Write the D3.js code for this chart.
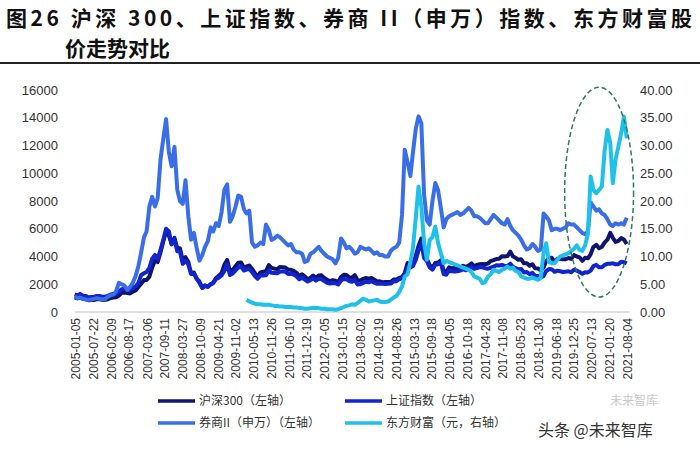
<!DOCTYPE html>
<html>
<head>
<meta charset="utf-8">
<script src="https://cdn.jsdelivr.net/npm/d3@7"></script>
<style>
  body { margin: 0; background: #fff; }
  svg { display: block; }
  text { font-family: "Liberation Sans", Arial, sans-serif; }
  .cjk { font-family: "Noto Sans CJK SC", sans-serif; }
</style>
</head>
<body>
<svg width="700" height="450"></svg>
<script>
// monthly points, Jan 2005 .. Aug 2021 (200 months)
const startYear = 2005;
const monthCount = 200;

const hs300 = [
  1000, 982, 1040, 950, 935, 853, 870, 865, 923, 920, 870, 880,
  923, 1010, 1050, 1060, 1190, 1380, 1400, 1360, 1340, 1460, 1550, 1800,
  2041, 2300, 2300, 2550, 3200, 3700, 3600, 4300, 5100, 5800, 5500, 4900,
  5338, 4600, 4600, 3700, 3950, 3600, 2800, 2850, 2400, 2100, 1750, 1920,
  1817, 2000, 2100, 2450, 2600, 2800, 3400, 3750, 2900, 3050, 3300, 3550,
  3575, 3200, 3280, 3350, 3100, 2800, 2560, 2850, 2900, 2950, 3380, 3180,
  3128, 3080, 3240, 3230, 3210, 3050, 3040, 2970, 2820, 2580, 2720, 2560,
  2346, 2460, 2630, 2450, 2630, 2640, 2460, 2330, 2230, 2290, 2250, 2140,
  2523, 2690, 2670, 2500, 2470, 2660, 2270, 2270, 2390, 2450, 2400, 2450,
  2330, 2200, 2210, 2150, 2160, 2160, 2170, 2350, 2340, 2450, 2510, 2800,
  3533, 3430, 3570, 4050, 4750, 5300, 4300, 3820, 3370, 3200, 3530, 3570,
  3731, 2950, 2880, 3220, 3160, 3170, 3150, 3200, 3330, 3250, 3340, 3500,
  3310, 3390, 3450, 3460, 3440, 3490, 3670, 3740, 3820, 3840, 4010, 4000,
  4030, 4350, 4020, 3900, 3760, 3800, 3510, 3520, 3330, 3440, 3150, 3140,
  3010, 3200, 3670, 3870, 3910, 3630, 3830, 3840, 3800, 3810, 3890, 3830,
  4100, 4000, 3940, 3690, 3910, 3870, 4160, 4700, 4840, 4590, 4700, 5000,
  5211, 5700, 5350, 5050, 5120, 5330, 5220, 4900
];

const shIndex = [
  1266, 1191, 1306, 1181, 1159, 1060, 1080, 1083, 1162, 1155, 1092, 1099,
  1161, 1258, 1299, 1299, 1440, 1641, 1672, 1612, 1601, 1752, 1837, 2099,
  2675, 2786, 2881, 3183, 3841, 4109, 3820, 4471, 5218, 6000, 5800, 4871,
  5262, 4383, 4348, 3472, 3693, 3433, 2736, 2775, 2397, 2200, 1729, 1871,
  1821, 1991, 2082, 2373, 2477, 2633, 2959, 3412, 2667, 2779, 2996, 3195,
  3277, 2989, 3051, 3110, 2870, 2592, 2398, 2638, 2639, 2656, 2979, 2820,
  2808, 2790, 2905, 2928, 2911, 2743, 2762, 2701, 2568, 2359, 2468, 2333,
  2199, 2292, 2428, 2263, 2397, 2373, 2225, 2103, 2047, 2086, 2069, 1980,
  2269, 2385, 2365, 2237, 2178, 2301, 1979, 1994, 2098, 2175, 2141, 2220,
  2116, 2033, 2056, 2033, 2026, 2039, 2048, 2202, 2217, 2364, 2420, 2683,
  3235, 3210, 3310, 3748, 4441, 5000, 3900, 3664, 3206, 3053, 3383, 3445,
  3539, 2738, 2688, 3004, 2938, 2917, 2930, 2979, 3085, 3005, 3100, 3250,
  3104, 3159, 3242, 3223, 3155, 3117, 3192, 3273, 3361, 3349, 3393, 3317,
  3307, 3481, 3259, 3169, 3082, 3095, 2847, 2876, 2725, 2821, 2603, 2588,
  2494, 2585, 2941, 3091, 3078, 2899, 2979, 2932, 2886, 2905, 2929, 2872,
  3050, 2977, 2880, 2750, 2860, 2852, 2985, 3310, 3396, 3218, 3225, 3392,
  3473, 3483, 3509, 3441, 3447, 3615, 3591, 3500
];

const qsIndex = [
  1100, 1000, 1050, 950, 900, 880, 900, 950, 1000, 950, 900, 950,
  1100, 1200, 1250, 1500, 2100, 2000, 1900, 1600, 1800, 2100, 2600, 3300,
  4300, 5400, 5800, 7600, 8300, 7600, 8200, 11000, 12500, 13900, 11500, 10500,
  11900, 8800, 8000, 7800, 9500, 6900, 5200, 5700, 4600, 3700, 4100, 4700,
  5100, 6100, 5800, 6400, 6200, 7200, 8800, 9200, 6500, 6900, 7600, 8400,
  8300, 7400, 7100, 7300, 5000, 4700, 4800, 5000, 4900, 6300, 5900, 5200,
  5300, 5500, 5400, 5200, 5000, 4800, 4900, 4500, 4300, 4300, 4200, 3600,
  3700, 4200, 4300, 4500, 4700, 4400, 4200, 4000, 3900, 3800, 3500, 3900,
  5300, 5000, 4600, 4700, 4500, 4200, 4300, 4700, 4600, 4500, 4600, 4400,
  4200, 4300, 4100, 4100, 4000, 4000, 4400, 4600, 4700, 5000, 7000, 11700,
  10800, 9800, 11500, 13200, 14100, 13600, 8500, 6600, 6300, 8000, 9300, 8800,
  7500, 6100, 6700, 6900, 7000, 7100, 7200, 7000, 7100, 7300, 7500, 7300,
  6900, 6900, 6800, 6600, 6400, 6400, 6700, 7000, 6800, 6600, 6400, 6300,
  6700, 6200, 5900, 5700, 5500, 5200, 4800, 4500, 4600, 4900, 4700, 4400,
  4500, 7100, 6900, 6600, 5900, 6000, 6000, 5900, 6000, 6100, 6400, 6300,
  6300, 6100, 5900, 5700, 5600, 5800, 7900, 7600, 7300, 7400, 7100, 7000,
  6700, 6300, 6200, 6400, 6300, 6400, 6300, 6800
];

// 东方财富 listed in 2010-03, nothing before that
const dfcf = [
  null, null, null, null, null, null, null, null, null, null, null, null,
  null, null, null, null, null, null, null, null, null, null, null, null,
  null, null, null, null, null, null, null, null, null, null, null, null,
  null, null, null, null, null, null, null, null, null, null, null, null,
  null, null, null, null, null, null, null, null, null, null, null, null,
  null, null, 2.2, 1.9, 1.7, 1.5, 1.4, 1.4, 1.3, 1.3, 1.3, 1.2,
  1.1, 1.1, 1.0, 1.0, 0.9, 0.9, 0.9, 0.8, 0.8, 0.7, 0.7, 0.6,
  0.6, 0.7, 0.7, 0.7, 0.7, 0.6, 0.6, 0.5, 0.5, 0.5, 0.4, 0.5,
  0.7, 0.9, 1.1, 1.2, 1.4, 1.3, 1.6, 2.0, 2.4, 2.2, 1.9, 2.0,
  2.1, 2.2, 1.9, 1.8, 1.8, 1.9, 2.2, 2.6, 2.9, 3.6, 4.6, 6.4,
  6.8, 9.0, 11.5, 17.0, 22.6, 19.0, 12.5, 9.4, 13.0, 13.5, 15.4, 12.5,
  10.6, 8.8, 9.2, 9.0, 8.8, 8.6, 8.4, 8.2, 8.0, 7.8, 7.6, 7.2,
  6.4, 6.2, 6.0, 5.2, 5.4, 6.4, 6.8, 7.6, 7.4, 7.2, 7.6, 7.8,
  8.2, 7.8, 8.0, 7.4, 7.2, 6.4, 6.2, 6.0, 6.0, 6.2, 6.0, 5.8,
  6.2, 10.6, 12.4, 9.0, 8.8, 8.8, 9.4, 10.0, 10.2, 10.4, 10.6, 11.0,
  11.4, 12.0, 11.2, 11.0, 12.0, 14.0, 24.4, 22.0, 21.4, 22.0, 22.6, 29.0,
  32.8, 30.5, 23.2, 27.5, 29.8, 32.2, 35.2, 31.3
];

const xTickLabels = [
  '2005-01-05', '2005-07-22', '2006-02-09', '2006-08-17', '2007-03-06', '2007-09-11',
  '2008-03-27', '2008-10-09', '2009-04-21', '2009-11-02', '2010-05-13', '2010-11-26',
  '2011-06-10', '2011-12-19', '2012-07-05', '2013-01-15', '2013-08-02', '2014-02-19',
  '2014-08-26', '2015-03-13', '2015-09-18', '2016-04-05', '2016-10-18', '2017-04-28',
  '2017-11-08', '2018-05-23', '2018-11-30', '2019-06-18', '2019-12-25', '2020-07-13',
  '2021-01-20', '2021-08-04'
];
const leftTicks = [0, 2000, 4000, 6000, 8000, 10000, 12000, 14000, 16000];
const rightTicks = [0, 5, 10, 15, 20, 25, 30, 35, 40];

const seriesNames = ['沪深300（左轴）', '上证指数（左轴）', '券商II（申万）（左轴）', '东方财富（元，右轴）'];
const seriesColors = ['#0f1470', '#1024d0', '#3a6ee8', '#1fc0ea'];

// dashed ellipse marking the 2020-2021 run-up
const highlight = { from: '2019-09-20', to: '2021-10-15', lo: 1080, hi: 16200 };

const titleLine1 = '图26 沪深 300、上证指数、券商 II（申万）指数、东方财富股';
const titleLine2 = '价走势对比';

const svg = d3.select('svg');
const width = +svg.attr('width');
const height = +svg.attr('height');

const parseDate = d3.timeParse('%Y-%m-%d');
const months = d3.range(monthCount).map(i => new Date(startYear, i, 1));

const margin = { top: 90, bottom: 138, left: 75, right: 73 };

const xScale = d3.scaleTime()
  .domain([parseDate(xTickLabels[0]), parseDate(xTickLabels[xTickLabels.length - 1])])
  .range([margin.left, width - margin.right]);

const yLeft = d3.scaleLinear()
  .domain([0, 16000])
  .range([height - margin.bottom, margin.top]);

const yRight = d3.scaleLinear()
  .domain([0, 40])
  .range([height - margin.bottom, margin.top]);

// title
svg.append('text')
    .attr('class', 'cjk')
    .attr('x', 6)
    .attr('y', 26)
    .attr('textLength', 686)
    .attr('lengthAdjust', 'spacing')
    .style('font-size', '21px')
    .style('font-weight', 700)
    .attr('fill', '#111')
    .text(titleLine1);

svg.append('text')
    .attr('class', 'cjk')
    .attr('x', 65)
    .attr('y', 56)
    .style('font-size', '21px')
    .style('font-weight', 700)
    .attr('fill', '#111')
    .text(titleLine2);

svg.append('line')
    .attr('x1', 0).attr('x2', width)
    .attr('y1', 63).attr('y2', 63)
    .attr('stroke', '#222')
    .attr('stroke-width', 2);

// axes
const yAxisL = d3.axisLeft(yLeft).tickValues(leftTicks).tickSize(0).tickPadding(0)
    .tickFormat(d3.format('d'));
const yAxisLG = svg.append('g')
    .attr('transform', 'translate(58,0)')
    .call(yAxisL);
yAxisLG.select('.domain').remove();
yAxisLG.selectAll('text')
    .style('font-size', '13px')
    .style('font-family', '"Liberation Sans", Arial, sans-serif')
    .attr('fill', '#333');

const yAxisR = d3.axisRight(yRight).tickValues(rightTicks).tickSize(0).tickPadding(0)
    .tickFormat(d3.format('.2f'));
const yAxisRG = svg.append('g')
    .attr('transform', 'translate(640,0)')
    .call(yAxisR);
yAxisRG.select('.domain').remove();
yAxisRG.selectAll('text')
    .style('font-size', '13px')
    .style('font-family', '"Liberation Sans", Arial, sans-serif')
    .attr('fill', '#333');

svg.append('line')
    .attr('x1', margin.left).attr('x2', xScale(parseDate('2021-09-01')))
    .attr('y1', yLeft(0)).attr('y2', yLeft(0))
    .attr('stroke', '#d4d4d4')
    .attr('stroke-width', 1.5);

const xAxis = d3.axisBottom(xScale)
    .tickValues(xTickLabels.map(parseDate))
    .tickFormat(d3.timeFormat('%Y-%m-%d'))
    .tickSize(0)
    .tickPadding(0);
const xAxisG = svg.append('g')
    .attr('transform', `translate(0,${yLeft(0) + 6})`)
    .call(xAxis);
xAxisG.select('.domain').remove();
xAxisG.selectAll('text')
    .attr('transform', 'rotate(-90)')
    .attr('x', 0)
    .attr('y', 0)
    .attr('dy', '0.35em')
    .style('text-anchor', 'end')
    .style('font-size', '12px')
    .style('font-family', '"Liberation Sans", Arial, sans-serif')
    .attr('fill', '#333');

// lines
const lineLeft = d3.line()
    .x((d, i) => xScale(months[i]))
    .y(d => yLeft(d));

const lineRight = d3.line()
    .defined(d => d !== null)
    .x((d, i) => xScale(months[i]))
    .y(d => yRight(d));

const leftSeries = [hs300, shIndex, qsIndex];
leftSeries.forEach((values, k) => {
  svg.append('path')
      .datum(values)
      .attr('fill', 'none')
      .attr('stroke', seriesColors[k])
      .attr('stroke-width', 4)
      .attr('stroke-linejoin', 'round')
      .attr('d', lineLeft);
});

svg.append('path')
    .datum(dfcf)
    .attr('fill', 'none')
    .attr('stroke', seriesColors[3])
    .attr('stroke-width', 4)
    .attr('stroke-linejoin', 'round')
    .attr('d', lineRight);

// highlight ellipse
const ex0 = xScale(parseDate(highlight.from));
const ex1 = xScale(parseDate(highlight.to));
const ey0 = yLeft(highlight.hi);
const ey1 = yLeft(highlight.lo);
svg.append('ellipse')
    .attr('cx', (ex0 + ex1) / 2)
    .attr('cy', (ey0 + ey1) / 2)
    .attr('rx', (ex1 - ex0) / 2)
    .attr('ry', (ey1 - ey0) / 2)
    .attr('fill', 'none')
    .attr('stroke', '#2f7a5c')
    .attr('stroke-width', 1.5)
    .attr('stroke-dasharray', '5,3');

// legend
const legend = svg.append('g');
const legendPos = [[158, 401], [345, 401], [158, 423], [345, 423]];
seriesNames.forEach((name, k) => {
  const [lx, ly] = legendPos[k];
  legend.append('line')
      .attr('x1', lx).attr('x2', lx + 37)
      .attr('y1', ly).attr('y2', ly)
      .attr('stroke', seriesColors[k])
      .attr('stroke-width', 3.5);
  legend.append('text')
      .attr('class', 'cjk')
      .attr('x', lx + 41)
      .attr('y', ly)
      .attr('dy', '0.35em')
      .style('font-size', '12px')
      .attr('fill', '#333')
      .text(name);
});

// watermark
svg.append('text')
    .attr('class', 'cjk')
    .attr('x', 610)
    .attr('y', 405)
    .style('font-size', '12px')
    .attr('fill', '#c8c8c8')
    .text('未来智库');

svg.append('text')
    .attr('class', 'cjk')
    .attr('x', 538)
    .attr('y', 436)
    .style('font-size', '16px')
    .attr('fill', '#333')
    .text('头条 @未来智库');
</script>
</body>
</html>
